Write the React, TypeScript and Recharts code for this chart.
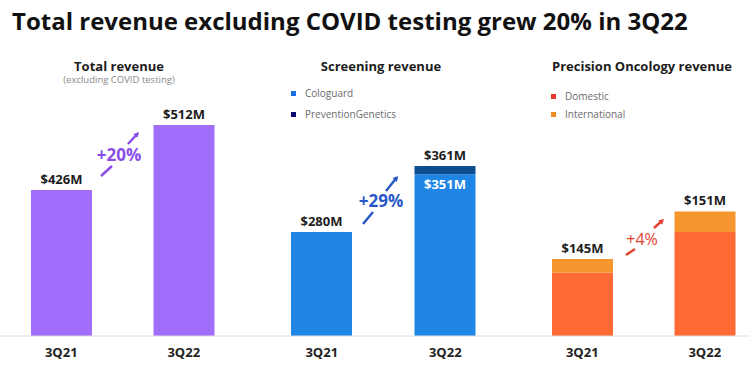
import React from "react";
import { Bar, BarChart, LabelList, XAxis, YAxis } from "recharts";

const FONT = "'Open Sans', 'Noto Sans', sans-serif";

const QUARTERS = ["3Q21", "3Q22"];

// Total revenue excl. COVID testing, $M
const TOTAL_REV = [426, 512];
const TOTAL_LABELS = ["$426M", "$512M"];

// Screening revenue, $M
const COLOGUARD = [280, 351];
const PREVENTION_GENETICS = [0, 10];
const COLOGUARD_TOP_LABELS = ["$280M", ""];
const COLOGUARD_INNER_LABELS = ["", "$351M"];
const PG_TOP_LABELS = ["", "$361M"];

const DOMESTIC = [143.3, 148.4];
const INTERNATIONAL = [1.7, 2.6];
const ONCOLOGY_LABELS = ["$145M", "$151M"];

const GROWTH = ["+20%", "+29%", "+4%"];

// the slide's bars don't start at zero, so each panel gets its own value window
const TOTAL_DOMAIN = [232.8, 583.4];
const SCREENING_DOMAIN = [152.4, 477.6];
const ONCOLOGY_DOMAIN = [135.3, 168.7];

const PURPLE = "#a06efb";
const BLUE = "#1f86e6";
const NAVY = "#0d4d92";
const ORANGE_RED = "#ff6a35";
const ORANGE = "#f7962e";
const LINE = "#dcdcdc";

const totalData = QUARTERS.map((q, i) => ({ q, total: TOTAL_REV[i], top: TOTAL_LABELS[i] }));
const screeningData = QUARTERS.map((q, i) => ({
  q,
  cologuard: COLOGUARD[i],
  pg: PREVENTION_GENETICS[i],
  cgTop: COLOGUARD_TOP_LABELS[i],
  cgInner: COLOGUARD_INNER_LABELS[i],
  pgTop: PG_TOP_LABELS[i],
}));
const oncologyData = QUARTERS.map((q, i) => ({
  q,
  domestic: DOMESTIC[i],
  intl: INTERNATIONAL[i],
  top: ONCOLOGY_LABELS[i],
}));

const topLabel = (props: any) => {
  const { x, y, width, value } = props;
  if (!value) return null;
  return (
    <text
      x={Number(x) + Number(width) / 2}
      y={Number(y) - 6}
      textAnchor="middle"
      fill="#1d1d1d"
      fontSize={13}
      fontWeight={700}
      fontFamily={FONT}
    >
      {value}
    </text>
  );
};

const innerLabel = (props: any) => {
  const { x, y, width, value } = props;
  if (!value) return null;
  return (
    <text
      x={Number(x) + Number(width) / 2}
      y={Number(y) + 15}
      textAnchor="middle"
      fill="#fff"
      fontSize={13}
      fontWeight={700}
      fontFamily={FONT}
    >
      {value}
    </text>
  );
};

function Panel({
  left,
  width,
  padding,
  data,
  domain,
  divider,
  children,
}: {
  left: number;
  width: number;
  padding: { left: number; right: number };
  data: any[];
  domain: number[];
  divider: boolean;
  children: React.ReactNode;
}) {
  return (
    <div style={{ position: "absolute", left, top: 0 }}>
      <BarChart
        width={width}
        height={367}
        data={data}
        margin={{ top: 71, right: 0, bottom: 0, left: 0 }}
        barSize={61}
      >
        <XAxis
          dataKey="q"
          height={31}
          padding={padding}
          axisLine={{ stroke: LINE }}
          tickLine={false}
          tickMargin={6}
          interval={0}
          tick={{ fill: "#222", fontSize: 13, fontWeight: 700, fontFamily: FONT }}
        />
        <YAxis
          hide={!divider}
          width={0}
          domain={domain}
          allowDataOverflow
          tick={false}
          tickLine={false}
          axisLine={{ stroke: LINE }}
        />
        {children}
      </BarChart>
    </div>
  );
}

function LegendRow({ x, y, color, text }: { x: number; y: number; color: string; text: string }) {
  return (
    <div
      style={{
        position: "absolute",
        left: x,
        top: y - 7,
        height: 14,
        display: "flex",
        alignItems: "center",
        fontSize: 10,
        color: "#6b6b6b",
        fontFamily: FONT,
        whiteSpace: "nowrap",
      }}
    >
      <span style={{ width: 5, height: 5, background: color, marginRight: 9, display: "inline-block" }} />
      {text}
    </div>
  );
}

function PanelTitle({ cx, y, text, size = 13, color = "#1d1d1d", weight = 700 }: any) {
  return (
    <div
      style={{
        position: "absolute",
        left: cx - 150,
        width: 300,
        top: y - size * 0.7,
        textAlign: "center",
        fontSize: size,
        fontWeight: weight,
        color,
        fontFamily: FONT,
        lineHeight: `${size * 1.4}px`,
        whiteSpace: "nowrap",
      }}
    >
      {text}
    </div>
  );
}

function Growth({
  color,
  text,
  tx,
  ty,
  low,
  high,
  size = 17,
  weight = 700,
}: {
  color: string;
  text: string;
  tx: number;
  ty: number;
  low: number[];
  high: number[];
  size?: number;
  weight?: number;
}) {
  const [x1, y1, x2, y2] = high;
  const ang = Math.atan2(y2 - y1, x2 - x1);
  const h = 6;
  const p1 = [x2 - h * Math.cos(ang - 0.5), y2 - h * Math.sin(ang - 0.5)];
  const p2 = [x2 - h * Math.cos(ang + 0.5), y2 - h * Math.sin(ang + 0.5)];
  return (
    <g>
      <line x1={low[0]} y1={low[1]} x2={low[2]} y2={low[3]} stroke={color} strokeWidth={2.5} />
      <line x1={x1} y1={y1} x2={x2 - 2 * Math.cos(ang)} y2={y2 - 2 * Math.sin(ang)} stroke={color} strokeWidth={2.5} />
      <polygon points={`${x2},${y2} ${p1[0]},${p1[1]} ${p2[0]},${p2[1]}`} fill={color} />
      <text
        x={tx}
        y={ty}
        textAnchor="middle"
        dominantBaseline="central"
        fill={color}
        fontSize={size}
        fontWeight={weight}
        fontFamily={FONT}
      >
        {text}
      </text>
    </g>
  );
}

export default function App() {
  return (
    <div
      style={{
        position: "absolute",
        left: 0,
        top: 0,
        width: 750,
        height: 367,
        overflow: "hidden",
        background: "#fff",
        fontFamily: FONT,
      }}
    >
      <div
        style={{
          position: "absolute",
          left: 12,
          top: 4,
          fontSize: 24,
          fontWeight: 700,
          color: "#111",
          whiteSpace: "nowrap",
          fontFamily: FONT,
        }}
      >
        Total revenue excluding COVID testing grew 20% in 3Q22
      </div>

      <Panel left={0} width={252} padding={{ left: 0, right: 7 }} data={totalData} domain={TOTAL_DOMAIN} divider={false}>
        <Bar dataKey="total" fill={PURPLE} isAnimationActive={false}>
          <LabelList dataKey="top" content={topLabel} />
        </Bar>
      </Panel>

      <Panel left={252} width={261} padding={{ left: 8, right: 6 }} data={screeningData} domain={SCREENING_DOMAIN} divider>
        <Bar dataKey="cologuard" stackId="s" fill={BLUE} isAnimationActive={false}>
          <LabelList dataKey="cgTop" content={topLabel} />
          <LabelList dataKey="cgInner" content={innerLabel} />
        </Bar>
        <Bar dataKey="pg" stackId="s" fill={NAVY} isAnimationActive={false}>
          <LabelList dataKey="pgTop" content={topLabel} />
        </Bar>
      </Panel>

      <Panel left={513} width={253} padding={{ left: 8, right: 0 }} data={oncologyData} domain={ONCOLOGY_DOMAIN} divider>
        <Bar dataKey="domestic" stackId="o" fill={ORANGE_RED} isAnimationActive={false} />
        <Bar dataKey="intl" stackId="o" fill={ORANGE} isAnimationActive={false}>
          <LabelList dataKey="top" content={topLabel} />
        </Bar>
      </Panel>

      <PanelTitle cx={119} y={66} text="Total revenue" />
      <PanelTitle cx={119} y={80} text="(excluding COVID testing)" size={9.5} color="#8a8a8a" weight={400} />
      <PanelTitle cx={381} y={66} text="Screening revenue" />
      <PanelTitle cx={642} y={66} text="Precision Oncology revenue" />

      <LegendRow x={291} y={93} color="#1a6fe6" text="Cologuard" />
      <LegendRow x={291} y={114} color="#0a0a6e" text="PreventionGenetics" />
      <LegendRow x={551} y={96} color="#e8362b" text="Domestic" />
      <LegendRow x={551} y={114} color="#f08a22" text="International" />

      <svg width={750} height={367} style={{ position: "absolute", left: 0, top: 0, pointerEvents: "none" }}>
        <Growth color="#8a4de8" text={GROWTH[0]} tx={119} ty={154} low={[101, 176, 112, 166]} high={[128, 144, 139, 132]} />
        <Growth color="#2b58c8" text={GROWTH[1]} tx={381} ty={200} low={[363, 224, 373, 212]} high={[386, 191, 398, 176]} />
        <Growth color="#e4402e" text={GROWTH[2]} tx={642} ty={239} low={[626, 255, 635, 249]} high={[654, 228, 664, 219]} size={16} weight={500} />
      </svg>
    </div>
  );
}
